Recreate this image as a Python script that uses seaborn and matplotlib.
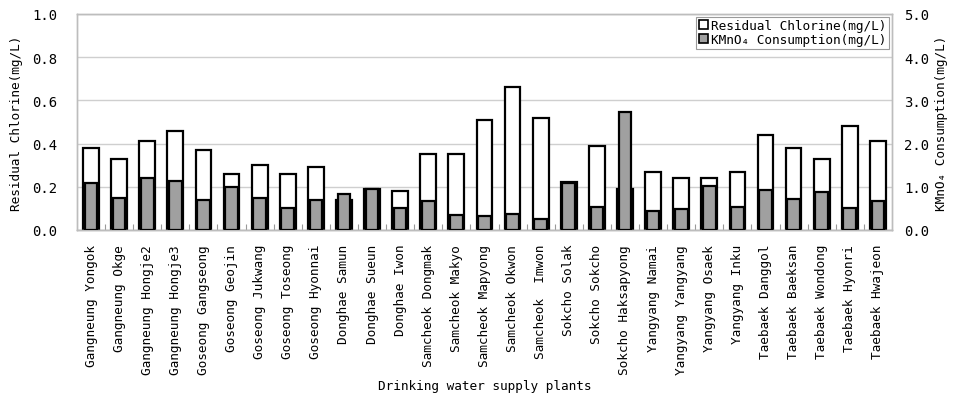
import numpy as np
import pandas as pd
import matplotlib
matplotlib.use("Agg")
import matplotlib.pyplot as plt
import seaborn as sns
from matplotlib.patches import Patch
from matplotlib.ticker import FormatStrFormatter, MultipleLocator

# Water supply plants (x categories)
plants = [
    "Gangneung Yongok", "Gangneung Okge", "Gangneung Hongje2", "Gangneung Hongje3",
    "Goseong Gangseong", "Goseong Geojin", "Goseong Jukwang", "Goseong Toseong",
    "Goseong Hyonnai", "Donghae Samun", "Donghae Sueun", "Donghae Iwon",
    "Samcheok Dongmak", "Samcheok Makyo", "Samcheok Mapyong", "Samcheok Okwon",
    "Samcheok  Imwon", "Sokcho Solak", "Sokcho Sokcho", "Sokcho Haksapyong",
    "Yangyang Namai", "Yangyang Yangyang", "Yangyang Osaek", "Yangyang Inku",
    "Taebaek Danggol", "Taebaek Baeksan", "Taebaek Wondong", "Taebaek Hyonri",
    "Taebaek Hwajeon",
]

# Residual chlorine (mg/L), left axis
chlorine = [
    0.38, 0.33, 0.41, 0.46, 0.37, 0.26, 0.30, 0.26, 0.29, 0.14,
    0.19, 0.18, 0.35, 0.35, 0.51, 0.66, 0.52, 0.22, 0.39, 0.19,
    0.27, 0.24, 0.24, 0.27, 0.44, 0.38, 0.33, 0.48, 0.41,
]

# KMnO4 consumption (mg/L), right axis
kmno4 = [
    1.08, 0.74, 1.20, 1.14, 0.69, 0.99, 0.74, 0.51, 0.69, 0.83,
    0.95, 0.50, 0.66, 0.35, 0.32, 0.38, 0.26, 1.08, 0.53, 2.74,
    0.44, 0.48, 1.01, 0.53, 0.93, 0.72, 0.89, 0.51, 0.66,
]

df = pd.DataFrame({"plant": plants, "chlorine": chlorine, "kmno4": kmno4})

plt.rcParams["font.family"] = ["DejaVu Sans Mono", "DejaVu Sans"]
plt.rcParams["font.size"] = 9.2

fig = plt.figure(figsize=(9.55, 4.02), dpi=100)
ax = fig.add_axes([0.0806, 0.4254, 0.8534, 0.5373])

border = "#bdbdbd"
grey_fill = "#a0a0a0"

sns.barplot(data=df, x="plant", y="chlorine", ax=ax, color="white",
            edgecolor="black", linewidth=1.6, width=0.56, saturation=1,
            errorbar=None, zorder=2)

ax2 = ax.twinx()
sns.barplot(data=df, x="plant", y="kmno4", ax=ax2, color=grey_fill,
            edgecolor="black", linewidth=1.6, width=0.45, saturation=1,
            errorbar=None, zorder=3)

n = len(plants)
ax.set_xlim(-0.5, n - 0.5)
ax2.set_xlim(-0.5, n - 0.5)

ax.set_ylim(0, 1.0)
ax2.set_ylim(0, 5.0)
ax.yaxis.set_major_locator(MultipleLocator(0.2))
ax2.yaxis.set_major_locator(MultipleLocator(1.0))
ax.yaxis.set_major_formatter(FormatStrFormatter("%.1f"))
ax2.yaxis.set_major_formatter(FormatStrFormatter("%.1f"))

ax.set_axisbelow(True)
ax.yaxis.grid(True, color="#cfcfcf", linewidth=1.0)
ax.xaxis.grid(False)

# category ticks and boundary tick marks
ax.set_xticks(np.arange(n))
ax.set_xticklabels(plants, rotation=90, va="top", ha="center")
ax.set_xticks(np.arange(n - 1) + 0.5, minor=True)
ax.tick_params(axis="x", which="major", length=0, pad=10, labelsize=9.2)
ax.tick_params(axis="x", which="minor", length=4, direction="in",
               color="#999999", width=0.8)
ax.tick_params(axis="y", length=0, pad=14, labelsize=10)
ax2.tick_params(axis="y", length=0, pad=9, labelsize=10)

for a in (ax, ax2):
    for s in a.spines.values():
        s.set_color(border)
        s.set_linewidth(1.0)
ax.spines["bottom"].set_color("#9a9a9a")

ax.set_xlabel("Drinking water supply plants", fontsize=9.2, labelpad=4)
ax.set_ylabel("Residual Chlorine(mg/L)", fontsize=9.2, labelpad=7)
ax2.set_ylabel("KMnO\u2084 Consumption(mg/L)", fontsize=9.2, labelpad=4)
ax2.set_xlabel("")

handles = [
    Patch(facecolor="white", edgecolor="black", linewidth=1.2,
          label="Residual Chlorine(mg/L)"),
    Patch(facecolor=grey_fill, edgecolor="black", linewidth=1.2,
          label="KMnO\u2084 Consumption(mg/L)"),
]
leg = ax2.legend(handles=handles, loc="upper right", fontsize=9.2,
                 frameon=True, fancybox=False, edgecolor="#9a9a9a",
                 handlelength=0.7, handleheight=0.7, handletextpad=0.3,
                 borderpad=0.2, labelspacing=0.1, borderaxespad=0.2,
                 framealpha=1)
leg.get_frame().set_linewidth(0.8)

fig.savefig("out.png", dpi=100)
